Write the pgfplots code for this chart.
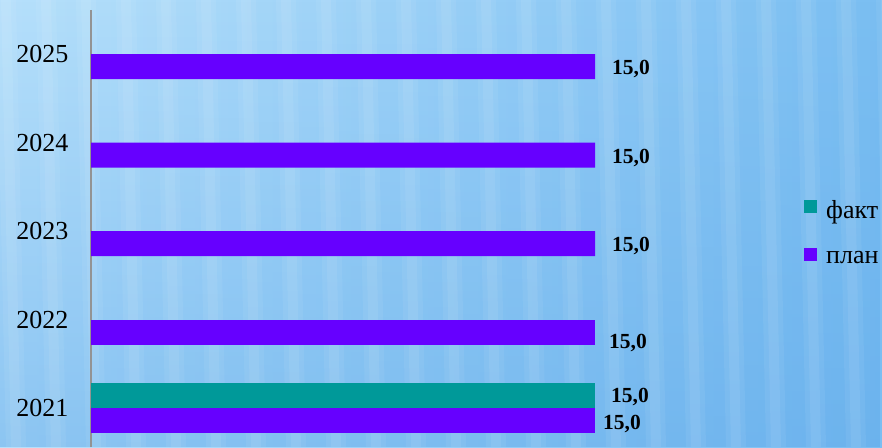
\documentclass[border=0pt]{standalone}
\usepackage{pgfplots}
\pgfplotsset{compat=1.18}
\usepackage{fontspec}
\setmainfont{Liberation Serif}
\usetikzlibrary{fadings}
\definecolor{plan}{HTML}{6600FF}
\definecolor{fact}{HTML}{009999}
\definecolor{bgL}{RGB}{182,224,251}
\definecolor{bgR}{RGB}{122,190,242}
\definecolor{bgD}{RGB}{90,165,232}
\begin{document}
\begin{tikzpicture}[x=1pt,y=1pt]
\useasboundingbox (0,0) rectangle (882,447);
\shade[left color=bgL, right color=bgR] (0,0) rectangle (882,447);
\fill[bgD, opacity=0.45, path fading=north] (0,0) rectangle (882,447);
\foreach \i in {0,...,22} {
  \fill[white, opacity=0.06] (\i*40-4,447) -- ++(20,0) -- ++(10,-447) -- ++(-20,0) -- cycle;
  \fill[white, opacity=0.07] (\i*40+1,447) -- ++(10,0) -- ++(10,-447) -- ++(-10,0) -- cycle;
}
\begin{axis}[
  at={(91pt,0pt)}, anchor=south west,
  scale only axis, width=672pt, height=437pt,
  xmin=0, xmax=20, ymin=-0.44, ymax=4.5,
  xbar, bar width=25pt,
  axis x line=none, axis y line*=left,
  y axis line style={draw=gray!85, line width=1.5pt},
  ytick={0,1,2,3,4}, yticklabels={2021,2022,2023,2024,2025},
  major tick length=0pt,
  yticklabel style={font=\fontsize{26}{30}\selectfont, xshift=-19pt},
  /pgf/number format/.cd, fixed, fixed zerofill, precision=1, use comma, assume math mode=true,
  /pgfplots/.cd,
  legend style={draw=none, fill=none, at={(1.061,0.569)}, anchor=north west,
    font=\fontsize{26}{28}\selectfont, row sep=26pt, inner sep=0pt,
    /tikz/every odd column/.append style={column sep=7pt}},
  legend cell align=left,
  legend image code/.code={\fill[#1] (0pt,-3pt) rectangle (13pt,10pt);},
  vlab/.style={nodes near coords, every node near coord/.append style={anchor=west, font=\fontsize{21.5}{24}\bfseries, inner sep=0pt, #1}},
]
\addplot[fill=fact, draw=none, bar shift=12.5pt, vlab={xshift=16pt, yshift=-1.5pt}]
  coordinates {(15,0)};
\addlegendentry{факт}
\addplot[fill=plan, draw=none, bar shift=-12.5pt, vlab={xshift=8pt, yshift=-3.5pt}]
  coordinates {(15,0)};
\addlegendentry{план}
\addplot[fill=plan, draw=none, bar shift=-12.5pt, forget plot, vlab={xshift=14pt, yshift=-10.5pt}]
  coordinates {(15,1)};
\addplot[fill=plan, draw=none, bar shift=-12.5pt, forget plot, vlab={xshift=17pt, yshift=-2.5pt}]
  coordinates {(15,2) (15,3) (15,4)};
\end{axis}
\end{tikzpicture}
\end{document}
